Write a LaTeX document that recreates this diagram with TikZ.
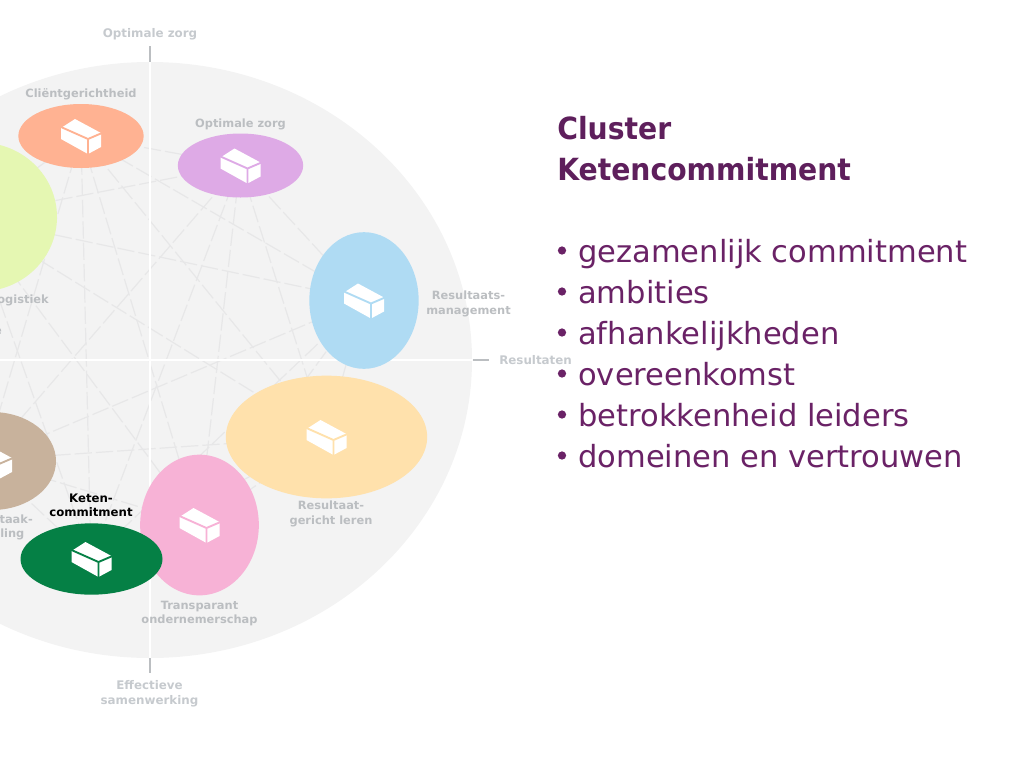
\documentclass[tikz,border=0pt]{standalone}
\usepackage{fontspec}
\setmainfont{DejaVu Sans}
\newfontfamily\titlef[FakeStretch=0.925]{DejaVu Sans}
\usetikzlibrary{shapes.geometric}
\definecolor{disc}{HTML}{F3F3F3}
\definecolor{web}{HTML}{E7E7E8}
\definecolor{lbl}{HTML}{BBBEC1}
\definecolor{lbltop}{HTML}{C6CACE}
\definecolor{plum}{HTML}{5E1F5C}
\definecolor{plumtxt}{HTML}{6A2266}
\definecolor{cgreen}{RGB}{229,247,178}
\definecolor{cbrown}{RGB}{200,178,156}
\definecolor{corange}{RGB}{255,178,146}
\definecolor{clilac}{RGB}{222,170,230}
\definecolor{cblue}{RGB}{175,219,243}
\definecolor{cyellow}{RGB}{255,225,172}
\definecolor{cpink}{RGB}{247,178,214}
\definecolor{cketen}{RGB}{5,128,69}
\tikzset{
  x=0.75pt,y=-0.75pt,
  bubble/.style={ellipse,inner sep=0pt,draw=none},
  lab/.style={font=\bfseries\fontsize{8.55}{10.9}\selectfont,text=lbl,align=center,inner sep=0pt},
  axlab/.style={lab,font=\bfseries\fontsize{8.9}{10.9}\selectfont,text=lbltop},
  keten/.style={lab,font=\bfseries\fontsize{8.8}{10.7}\selectfont,text=black},
  title/.style={font=\titlef\bfseries\fontsize{22.9}{30}\selectfont,text=plum,anchor=base west,inner sep=0pt},
  item/.style={font=\fontsize{22.9}{30}\selectfont,text=plumtxt,anchor=base west,inner sep=0pt},
  weblink/.style={draw=web,line width=0.9pt,dash pattern=on 13pt off 3pt},
  tick/.style={draw=lbl,line width=1.1pt},
  pics/brick/.style={code={
    \fill[white] (-20,-8) -- (-6,-17) -- (20,-3) -- (20,11) -- (7,18) -- (-20,3) -- cycle;
    \draw[draw=#1,line width=1.4pt] (-20,-9) -- (7,3) -- (21,-3) (7,3) -- (7,19);
  }}
}
\begin{document}
\begin{tikzpicture}
\useasboundingbox (0,0) rectangle (1024,768);
\clip (0,0) rectangle (1024,768);
\fill[disc] (150,360) ellipse [x radius=241.5pt,y radius=223.5pt];
\foreach \n/\p in {a/{81,136},b/{240,165},c/{364,300},d/{326,437},e/{199,525},f/{91,559},g/{-15,460},h/{-30,217}}
  \coordinate (w\n) at (\p);
\foreach \u/\v in {a/b,a/c,a/d,a/e,a/f,a/g,a/h,b/c,b/d,b/e,b/f,b/g,b/h,c/d,c/e,c/f,c/g,c/h,d/e,d/f,d/g,d/h,e/f,e/g,e/h,f/g,f/h,g/h}
  \draw[weblink] (w\u) -- (w\v);
\coordinate (axT) at (150,62);
\coordinate (axB) at (150,658);
\coordinate (axL) at (0,360);
\coordinate (axR) at (472,360);
\draw[white,line width=1.6pt] (axT) -- (axB);
\draw[white,line width=1.6pt] (axL) -- (axR);
\coordinate (tT) at (150,46);
\coordinate (tB) at (150,673);
\coordinate (tR) at (489,360);
\draw[tick] (tT) -- (axT);
\draw[tick] (axB) -- (tB);
\draw[tick] (axR) ++(1,0) -- (tR);
% bubbles
\node[bubble,fill=cgreen,minimum width=115.5pt,minimum height=111.75pt] (logistiek) at (-20,217) {};
\node[bubble,fill=cbrown,minimum width=96pt,minimum height=73.5pt] (taak) at (-8,461) {};
\node[bubble,fill=corange,minimum width=94pt,minimum height=48pt] (client) at (81,136) {};
\node[bubble,fill=clilac,minimum width=94pt,minimum height=48pt] (optimaal) at (240.5,165.5) {};
\node[bubble,fill=cblue,minimum width=82pt,minimum height=102.5pt] (rmgmt) at (364,300.5) {};
\node[bubble,fill=cyellow,minimum width=151pt,minimum height=92pt] (rleren) at (326.5,437) {};
\node[bubble,fill=cpink,minimum width=89pt,minimum height=105.5pt] (transp) at (199.5,525) {};
\node[bubble,fill=cketen,minimum width=106.5pt,minimum height=53.5pt] (ketenb) at (91.5,559) {};
% bricks
\pic at (client) {brick=corange};
\pic at (optimaal) {brick=clilac};
\pic at (rmgmt) {brick=cblue};
\pic at (rleren) {brick=cyellow};
\pic at (transp) {brick=cpink};
\pic at (ketenb) {brick=cketen};
\pic at (taak) {brick=cbrown};
% labels
\node[axlab] (l1) at (150,34.5) {Optimale zorg};
\node[axlab] (l2) at (149.5,694) {Effectieve\\samenwerking};
\node[axlab,anchor=west] (l3) at (499,360) {Resultaten};
\node[lab] (l4) at (81,94) {Cliëntgerichtheid};
\node[lab] (l5) at (240.5,124) {Optimale zorg};
\node[lab] (l6) at (468.5,304) {Resultaats-\\management};
\node[lab] (l7) at (331,514) {Resultaat-\\gericht leren};
\node[lab] (l8) at (199.5,613.5) {Transparant\\ondernemerschap};
\node[keten] (l9) at (91,505.5) {Keten-\\commitment};
\node[lab,anchor=east] (l10) at (49,300) {ogistiek};
\node[lab,anchor=east] (l11) at (33,519) {taak-};
\node[lab,anchor=west] (l12) at (0,534) {ling};
\node[lab,anchor=east] (l13) at (2,331) {e};
% text block
\node[title] (t1) at (557,139) {Cluster};
\node[title] (t2) at (557,180) {Ketencommitment};
\foreach \nm/\yy/\tx in {i1/262/gezamenlijk commitment,i2/303/ambities,i3/344/afhankelijkheden,i4/385/overeenkomst,i5/426/betrokkenheid leiders,i6/467/domeinen en vertrouwen}{
  \node[item] (\nm) at (578,\yy) {\tx};
  \fill[plumtxt] (562,\yy-11.5) circle [radius=3.1pt];
}
\end{tikzpicture}
\end{document}
